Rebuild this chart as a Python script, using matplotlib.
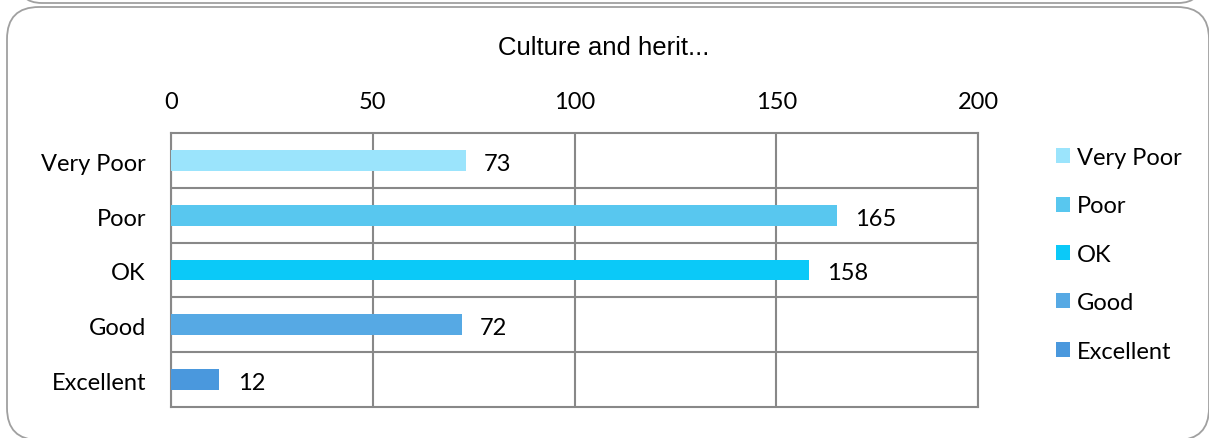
import matplotlib.pyplot as plt
from matplotlib.patches import FancyBboxPatch, Patch
from matplotlib.transforms import IdentityTransform, ScaledTranslation

categories = ['Very Poor', 'Poor', 'OK', 'Good', 'Excellent']
values = [73, 165, 158, 72, 12]
colors = ['#9be4fc', '#58c7ef', '#0bc9f8', '#56a9e4', '#4a98dd']
x_ticks = [0, 50, 100, 150, 200]
title = 'Culture and herit...'

W, H = 1209, 439
fig = plt.figure(figsize=(W / 100, H / 100), dpi=100)
font = ['Lato', 'DejaVu Sans']
fs = 17
down = ScaledTranslation(0, -3 / 100, fig.dpi_scale_trans)

# rounded panel borders (pixel coordinates)
outer = FancyBboxPatch((7, H - 441), 1202, 433, boxstyle='round,pad=0,rounding_size=32',
                       transform=IdentityTransform(), facecolor='white', edgecolor='#a0a0a0',
                       lw=1.3, zorder=-5)
fig.add_artist(outer)
top = FancyBboxPatch((18, H - 4), 1184, 100, boxstyle='round,pad=0,rounding_size=24',
                     transform=IdentityTransform(), facecolor='white', edgecolor='#a0a0a0',
                     lw=1.3, zorder=-5)
fig.add_artist(top)

ax = fig.add_axes([171 / W, (H - 408) / H, 807 / W, 274 / H])
ax.patch.set_alpha(0)
ypos = list(range(len(categories)))
ax.barh(ypos, values, height=0.38, color=colors, zorder=3)
for y, v in zip(ypos, values):
    ax.text(v + 4.5, y, str(v), va='center', ha='left', fontsize=fs, family=font,
            transform=ax.transData + down)

ax.set_xlim(0, 200)
ax.set_ylim(len(categories) - 0.5, -0.5)
ax.xaxis.tick_top()
ax.set_xticks(x_ticks)
ax.set_xticklabels([str(t) for t in x_ticks], fontsize=fs, family=font)
ax.tick_params(axis='x', length=0, pad=15)

# category labels drawn as text so they can sit a little lower, like the original
ax.set_yticks([])
label_shift = ScaledTranslation(-25 / 100, -3 / 100, fig.dpi_scale_trans)
for y, c in zip(ypos, categories):
    ax.text(0, y, c, ha='right', va='center', fontsize=fs, family=font,
            transform=ax.get_yaxis_transform() + label_shift)

ax.set_yticks([i + 0.5 for i in ypos[:-1]], minor=True)
ax.tick_params(axis='y', which='minor', length=0)
ax.grid(True, axis='x', color='#888888', lw=1.5, zorder=0)
ax.grid(True, axis='y', which='minor', color='#888888', lw=1.5, zorder=0)
for s in ax.spines.values():
    s.set_color('#888888')
    s.set_linewidth(1.5)

fig.text(604 / W, 1 - 48 / H, title, ha='center', va='center', fontsize=18.5,
         family=['Liberation Sans', 'DejaVu Sans'])

handles = [Patch(facecolor=c, label=l) for c, l in zip(colors, categories)]
fig.legend(handles=handles, loc='upper left', bbox_to_anchor=(1056 / W, 1 - 148 / H),
           frameon=False, prop={'family': font, 'size': fs}, handlelength=0.6, handleheight=0.6,
           handletextpad=0.3, labelspacing=1.16, borderpad=0, borderaxespad=0)

fig.savefig('out.png', dpi=100)
